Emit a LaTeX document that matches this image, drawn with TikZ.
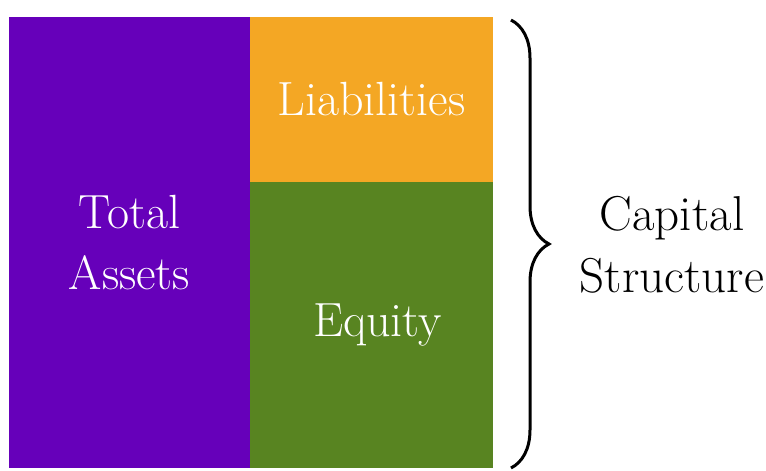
\documentclass[tikz,border=0pt]{standalone}
\usetikzlibrary{positioning,decorations.pathreplacing}

\definecolor{assetpurple}{HTML}{6600BA}
\definecolor{liaborange}{HTML}{F4A724}
\definecolor{equitygreen}{HTML}{588421}

\tikzset{
  block/.style={inner sep=0pt, outer sep=0pt, text=white, align=center,
    font=\fontsize{24pt}{30.5pt}\selectfont},
}

\begin{document}
\begin{tikzpicture}[x=0.5pt,y=-0.5pt]
  \useasboundingbox (0,0) rectangle (766,471);
  \node [block, fill=assetpurple, anchor=north west, minimum width=120.5pt, minimum height=225.5pt] (assets) at (9,17) {Total\\Assets};
  \node [block, fill=liaborange, anchor=north west, minimum width=121.5pt, minimum height=82.5pt] (liab) at (assets.north east) {Liabilities};
  \node [block, fill=equitygreen, anchor=north west, minimum width=121.5pt, minimum height=143pt] (equity) at (liab.south west) {\hspace*{6pt}Equity};
  \coordinate (bracetop) at (511,20);
  \coordinate (bracebot) at (511,468);
  \draw [line width=1.5pt, decorate, decoration={brace, amplitude=19pt}] (bracetop) -- (bracebot);
  \node [align=center, font=\fontsize{24.5pt}{31pt}\selectfont] (capstr) at (672,245) {Capital\\ Structure};
\end{tikzpicture}
\end{document}
